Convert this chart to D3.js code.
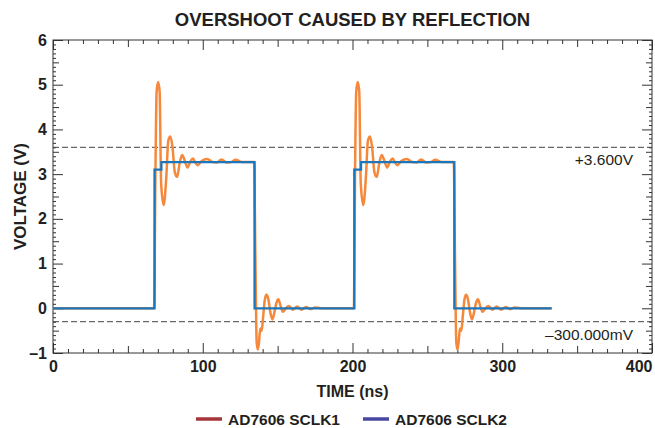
<!DOCTYPE html>
<html>
<head>
<meta charset="utf-8">
<script src="https://cdn.jsdelivr.net/npm/d3@7"></script>
<style>
    body { margin: 0; background: #fff; }
    svg { font-family: "Liberation Sans", Arial, sans-serif; }
</style>
</head>
<body>
<div id="chart"></div>
<script>
// Chart data (time in ns, volts)
var title = "OVERSHOOT CAUSED BY REFLECTION";
var xLabel = "TIME (ns)";
var yLabel = "VOLTAGE (V)";
var xTicks = [0, 100, 200, 300, 400];
var yTicks = [-1, 0, 1, 2, 3, 4, 5, 6];
var seriesNames = ["AD7606 SCLK1", "AD7606 SCLK2"];
var legendColors = ["#a5363a", "#4747a1"];
var markerLevels = [3.6, -0.3];
var markerLabels = ["+3.600V", "\u2013300.000mV"];

// SCLK1: the ringing trace
var sclk1 = [
    [0, 0], [67.5, 0], [68.4, 3.0], [69.2, 4.85], [70.2, 5.06], [71.2, 4.85],
    [72.2, 2.8], [73.9, 2.31], [75.6, 2.9], [77.0, 3.75], [78.4, 3.84], [79.8, 3.6],
    [81.3, 3.05], [82.9, 2.94], [84.6, 3.25], [86.2, 3.43], [88.0, 3.3], [89.8, 3.15],
    [91.7, 3.28], [93.5, 3.35], [95.0, 3.26], [96.6, 3.2], [99.5, 3.3], [103.0, 3.34],
    [106.5, 3.27], [109.5, 3.26], [112.5, 3.33], [116.0, 3.26], [119.0, 3.27],
    [122.0, 3.32], [126.0, 3.27], [134.0, 3.27],
    [134.3, 3.27], [135.2, 1.0], [136.0, -0.75], [136.8, -0.92], [137.6, -0.75],
    [138.4, -0.45], [139.4, -0.5], [140.3, -0.2], [141.5, 0.2], [142.6, 0.3],
    [143.7, 0.22], [145.2, -0.1], [146.5, -0.25], [147.8, -0.1], [149.2, 0.12],
    [150.5, 0.2], [152.0, 0.05], [153.5, -0.08], [155.5, 0.0], [157.5, 0.05],
    [160.0, -0.03], [163.0, 0.04], [166.0, -0.03], [169.0, 0.03], [172.0, -0.02],
    [175.0, 0.02], [179.0, 0], [201.0, 0],
    [201.7, 3.0], [202.5, 4.85], [203.5, 5.06], [204.5, 4.85], [205.5, 2.8],
    [207.2, 2.31], [208.9, 2.9], [210.3, 3.75], [211.7, 3.84], [213.1, 3.6],
    [214.6, 3.05], [216.2, 2.94], [217.9, 3.25], [219.5, 3.43], [221.3, 3.3],
    [223.1, 3.15], [225.0, 3.28], [226.8, 3.35], [228.3, 3.26], [229.9, 3.2],
    [232.8, 3.3], [236.3, 3.34], [239.8, 3.27], [242.8, 3.26], [245.8, 3.33],
    [249.3, 3.26], [252.3, 3.27], [255.3, 3.32], [259.3, 3.27], [267.6, 3.27],
    [268.5, 1.0], [269.3, -0.75], [270.1, -0.92], [270.9, -0.75], [271.7, -0.45],
    [272.7, -0.5], [273.6, -0.2], [274.8, 0.2], [275.9, 0.3], [277.0, 0.22],
    [278.5, -0.1], [279.8, -0.25], [281.1, -0.1], [282.5, 0.12], [283.8, 0.2],
    [285.3, 0.05], [286.8, -0.08], [288.8, 0.0], [290.8, 0.05], [293.3, -0.03],
    [296.3, 0.04], [299.3, -0.03], [302.3, 0.03], [305.3, -0.02], [308.3, 0.02],
    [312.3, 0], [333.0, 0]
];

// SCLK2: the clean stepped trace
var sclk2 = [
    [0, 0], [67.8, 0], [67.8, 3.1], [72.4, 3.1], [72.4, 3.27], [134.6, 3.27],
    [134.6, 0], [201.2, 0], [201.2, 3.1], [205.7, 3.1], [205.7, 3.27], [268.0, 3.27],
    [268.0, 0], [333.0, 0]
];

var width = 655;
var height = 428;
var plot = { left: 53, right: 652, top: 40, bottom: 353 };
var font = "'Liberation Sans', Arial, sans-serif";

function chart()
{
    var svg = d3.select("#chart").append("svg")
        .attr("width", width)
        .attr("height", height);

    var x = d3.scaleLinear().domain([0, 400]).range([plot.left, plot.right]);
    var y = d3.scaleLinear().domain([-1, 6]).range([plot.bottom, plot.top]);

    // title
    svg.append("text")
        .attr("x", (plot.left + plot.right) / 2)
        .attr("y", 26)
        .attr("text-anchor", "middle")
        .style("font-size", "18.5px")
        .style("font-weight", "bold")
        .style("fill", "#231f20")
        .text(title);

    drawAxes(svg, x, y);

    // marker lines (dashed)
    svg.selectAll(".marker")
        .data(markerLevels)
      .enter().append("line")
        .attr("class", "marker")
        .attr("x1", plot.left)
        .attr("x2", plot.right)
        .attr("y1", function(d) { return y(d); })
        .attr("y2", function(d) { return y(d); })
        .style("stroke", "#444")
        .style("stroke-width", 1)
        .style("stroke-dasharray", "6,3");

    svg.selectAll(".markerLabel")
        .data(markerLabels)
      .enter().append("text")
        .attr("class", "markerLabel")
        .attr("x", 633)
        .attr("y", function(d, i) { return y(markerLevels[i]) + 18; })
        .attr("text-anchor", "end")
        .style("font-size", "15.5px")
        .style("fill", "#231f20")
        .text(function(d) { return d; });

    // traces, SCLK1 first so SCLK2 sits on top
    var smooth = d3.line()
        .x(function(d) { return x(d[0]); })
        .y(function(d) { return y(d[1]); })
        .curve(d3.curveMonotoneX);

    var straight = d3.line()
        .x(function(d) { return x(d[0]); })
        .y(function(d) { return y(d[1]); });

    svg.append("path")
        .datum(sclk1)
        .attr("d", smooth)
        .style("fill", "none")
        .style("stroke", "#f5883a")
        .style("stroke-width", 2.5)
        .style("stroke-linejoin", "round");

    svg.append("path")
        .datum(sclk2)
        .attr("d", straight)
        .style("fill", "none")
        .style("stroke", "#1b76bc")
        .style("stroke-width", 2.3);

    // axis titles
    svg.append("text")
        .attr("x", (plot.left + plot.right) / 2)
        .attr("y", 397)
        .attr("text-anchor", "middle")
        .style("font-size", "16px")
        .style("font-weight", "bold")
        .style("fill", "#231f20")
        .text(xLabel);

    svg.append("text")
        .attr("transform", "translate(26," + ((plot.top + plot.bottom) / 2) + ") rotate(-90)")
        .attr("text-anchor", "middle")
        .style("font-size", "17px")
        .style("font-weight", "bold")
        .style("fill", "#231f20")
        .text(yLabel);

    // legend
    var legendX = [196, 363];
    var legend = svg.selectAll(".legend")
        .data(seriesNames)
      .enter().append("g")
        .attr("class", "legend")
        .attr("transform", function(d, i) { return "translate(" + legendX[i] + ",419)"; });

    legend.append("line")
        .attr("x1", 0)
        .attr("x2", 26)
        .style("stroke", function(d, i) { return legendColors[i]; })
        .style("stroke-width", 3.5);

    legend.append("text")
        .attr("x", 32)
        .attr("y", 6)
        .style("font-size", "15.5px")
        .style("font-weight", "bold")
        .style("fill", "#231f20")
        .text(function(d) { return d; });
}

// Frame with inward ticks on all four sides
function drawAxes(svg, x, y)
{
    var xMinor = d3.range(10, 400, 10).filter(function(v) { return v % 50 != 0; });
    var xMid = [50, 150, 250, 350];
    var yMinor = d3.range(-10, 61, 1).map(function(v) { return v / 10; })
        .filter(function(v) { return Math.abs(v * 2 - Math.round(v * 2)) > 1e-6; });
    var yMid = [-0.5, 0.5, 1.5, 2.5, 3.5, 4.5, 5.5];

    var sets = [
        { vals: xMinor, size: 4 },
        { vals: xMid, size: 7 },
        { vals: xTicks, size: 10 }
    ];
    var ysets = [
        { vals: yMinor, size: 3 },
        { vals: yMid, size: 6 },
        { vals: yTicks, size: 10 }
    ];

    sets.forEach(function(s, i) {
        var labels = (i == 2);
        svg.append("g")
            .attr("class", "axis")
            .attr("transform", "translate(0," + plot.bottom + ")")
            .call(d3.axisBottom(x).tickValues(s.vals).tickSize(-s.size).tickPadding(8)
                .tickFormat(labels ? d3.format("d") : ""));
        svg.append("g")
            .attr("class", "axis")
            .attr("transform", "translate(0," + plot.top + ")")
            .call(d3.axisTop(x).tickValues(s.vals).tickSize(-s.size).tickFormat(""));
    });

    ysets.forEach(function(s, i) {
        var labels = (i == 2);
        svg.append("g")
            .attr("class", "axis")
            .attr("transform", "translate(" + plot.left + ",0)")
            .call(d3.axisLeft(y).tickValues(s.vals).tickSize(-s.size).tickPadding(6)
                .tickFormat(labels ? function(d) { return d < 0 ? "\u2013" + (-d) : d; } : ""));
        svg.append("g")
            .attr("class", "axis")
            .attr("transform", "translate(" + plot.right + ",0)")
            .call(d3.axisRight(y).tickValues(s.vals).tickSize(-s.size).tickFormat(""));
    });

    svg.selectAll(".axis .domain").remove();
    svg.selectAll(".axis line").style("stroke", "#333");
    svg.selectAll(".axis text")
        .style("font-family", font)
        .style("font-size", "16px")
        .style("font-weight", "bold")
        .style("fill", "#231f20");

    // keep the last x label inside the page, as in the original
    svg.selectAll(".axis text")
        .filter(function(d) { return d === 400; })
        .attr("text-anchor", "end")
        .attr("x", 0);

    svg.append("rect")
        .attr("x", plot.left)
        .attr("y", plot.top)
        .attr("width", plot.right - plot.left)
        .attr("height", plot.bottom - plot.top)
        .style("fill", "none")
        .style("stroke", "#333")
        .style("stroke-width", 1);
}

chart();
</script>
</body>
</html>
